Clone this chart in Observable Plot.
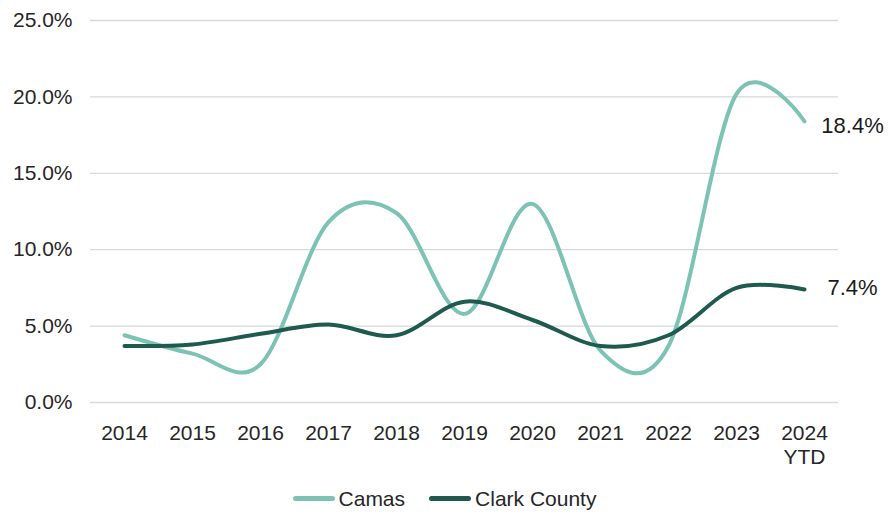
<!DOCTYPE html>
<html>
<head>
<meta charset="utf-8">
<script src="https://cdn.jsdelivr.net/npm/d3@7"></script>
<script src="https://cdn.jsdelivr.net/npm/@observablehq/plot@0.6"></script>
<style>
  html, body { margin: 0; padding: 0; background: #fff; }
  body { width: 889px; height: 517px; overflow: hidden; font-family: "Liberation Sans", Arial, sans-serif; }
  #legend { display: flex; justify-content: center; align-items: center; height: 37px; font-size: 21px; color: #262626; padding-left: 0px; }
  .item { display: flex; align-items: center; }
  .sw { width: 42px; height: 5px; border-radius: 3px; margin-right: 4px; }
</style>
</head>
<body>
<div id="chart"></div>
<div id="legend"></div>
<script>
const years = ["2014","2015","2016","2017","2018","2019","2020","2021","2022","2023","2024"];
const xTickLabels = ["2014","2015","2016","2017","2018","2019","2020","2021","2022","2023","2024\nYTD"];
const camas = [4.4, 3.2, 2.5, 11.8, 12.4, 5.8, 13.0, 3.4, 3.7, 20.2, 18.4];
const clark = [3.7, 3.8, 4.5, 5.1, 4.4, 6.6, 5.4, 3.7, 4.4, 7.5, 7.4];
const yTicks = [0, 5, 10, 15, 20, 25];
const seriesNames = ["Camas", "Clark County"];
const seriesColors = ["#7DC3B5", "#1E5A4E"];

const camasRows = years.map((yr, i) => ({year: yr, value: camas[i]}));
const clarkRows = years.map((yr, i) => ({year: yr, value: clark[i]}));
const pct = d => d.toFixed(1) + "%";

const chart = Plot.plot({
  width: 889,
  height: 480,
  marginLeft: 90,
  marginRight: 51,
  marginTop: 20,
  marginBottom: 78,
  style: {fontFamily: '"Liberation Sans", Arial, sans-serif', fontSize: "21px", color: "#262626", background: "#fff"},
  x: {type: "point", domain: years, padding: 0.5},
  y: {domain: [0, 25]},
  marks: [
    Plot.gridY(yTicks, {stroke: "#d9d9d9", strokeOpacity: 1, strokeWidth: 1.3}),
    Plot.axisY(yTicks, {tickSize: 0, tickPadding: 18, tickFormat: pct, fontSize: 21, label: null}),
    Plot.axisX({tickSize: 0, tickPadding: 20, fontSize: 21, lineHeight: 1.15, label: null,
                tickFormat: d => xTickLabels[years.indexOf(d)]}),
    Plot.line(camasRows, {x: "year", y: "value", stroke: seriesColors[0], strokeWidth: 4, curve: "cardinal", strokeLinecap: "round"}),
    Plot.line(clarkRows, {x: "year", y: "value", stroke: seriesColors[1], strokeWidth: 4, curve: "cardinal", strokeLinecap: "round"}),
    Plot.text(camasRows.slice(-1), {x: "year", y: "value", text: d => pct(d.value), dx: 48, dy: 5, fontSize: 22, fill: "#1a1a1a"}),
    Plot.text(clarkRows.slice(-1), {x: "year", y: "value", text: d => pct(d.value), dx: 48, dy: -1, fontSize: 22, fill: "#1a1a1a"})
  ]
});
document.getElementById("chart").appendChild(chart);

const legend = document.getElementById("legend");
seriesNames.forEach((name, i) => {
  const item = document.createElement("div");
  item.className = "item";
  if (i > 0) item.style.marginLeft = "24px";
  const sw = document.createElement("div");
  sw.className = "sw";
  sw.style.background = seriesColors[i];
  const t = document.createElement("span");
  t.textContent = name;
  item.appendChild(sw);
  item.appendChild(t);
  legend.appendChild(item);
});
</script>
</body>
</html>
